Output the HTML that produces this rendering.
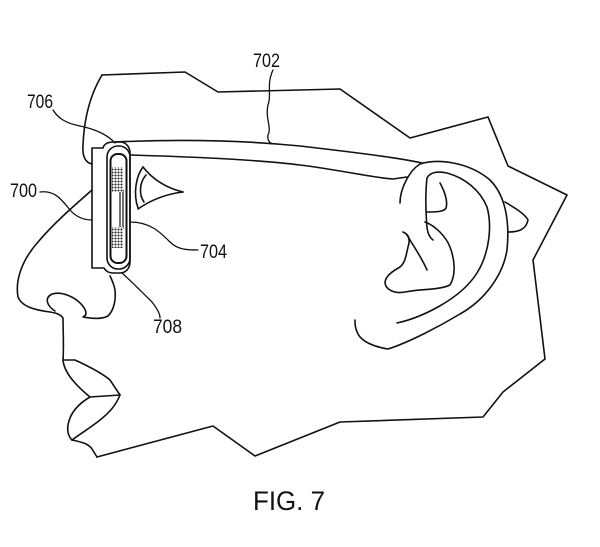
<!DOCTYPE html>
<html><head><meta charset="utf-8"><style>
html,body{margin:0;padding:0;background:#fff;}
svg{display:block;}
text{font-family:"Liberation Sans",Arial,sans-serif;fill:#111;}
</style></head><body>
<svg width="600" height="547" viewBox="0 0 600 547" xmlns="http://www.w3.org/2000/svg">
<defs>
<pattern id="dots" width="3" height="3" patternUnits="userSpaceOnUse">
<rect width="3" height="3" fill="#fff"/>
<circle cx="1.5" cy="1.5" r="1.05" fill="#222"/>
</pattern>
</defs>
<g fill="none" stroke="#111" stroke-width="1.6" stroke-linejoin="round" stroke-linecap="round">
<!-- head outline top/back/neck -->
<path d="M102,75 L185,72 L218,92 L300,90 L340,89 L410,138 L488,117 L508,166 L567,195 L533,260 L545,359 L503,392 L483,417 L340,422 L255,456 L213,426 L97,457"/>
<!-- chin -->
<path d="M72,440 C82,442 89,444 92,449 L97,457"/>
<!-- forehead -->
<path d="M102,75 C90,95 84,120 83,145 C82,157 86,163 92,164"/>
<!-- frame outer -->
<path d="M92,148 L103,148 C104,144 108,142 114,142 L120,142 C126,142 130,147 130,153 L130,262 C130,268 126,273 120,273 L113,273 C108,273 105,270 104,268 L92,268 Z"/>
<!-- capsule -->
<rect x="107" y="146" width="23" height="123" rx="11" ry="11"/>
<rect x="110.5" y="154" width="16" height="109" rx="7" ry="7" stroke-width="2"/>
<!-- vertical element -->
<rect x="120" y="190" width="3" height="38" stroke-width="1.2"/>
<!-- temple arm -->
<path d="M115,142 C180,139 240,140 300,146 C360,153 400,158 422,163"/>
<path d="M130,155 C200,157 260,160 300,165 C340,170 375,178 393,179 L407,177"/>
<!-- ear -->
<path d="M400,203 C400,188 410,170 420,164 C440,158 470,163 490,180 C505,195 510,220 507,250 C503,275 485,300 460,314 C440,326 410,342 388,349 C375,347 362,342 358,334 C355,328 355,324 355,320"/>
<path d="M505,202 C515,208 525,214 528,220 C526,230 518,232 508,232"/>
<path d="M397,323 C420,318 460,300 477,273 C490,252 492,225 487,207 C480,190 465,178 447,173 C438,171 430,172 427,178 C425,195 426,215 427,228 C428,234 430,238 433,240"/>
<path d="M440,183 C445,192 448,202 446,208 C444,212 435,212 427,212"/>
<path d="M403,232 C408,234 411,238 408,247 C406,256 405,263 400,267 C393,271 385,276 385,283 C386,290 395,294 405,292 C420,289 440,290 450,285 C456,275 455,260 450,247 C446,237 436,226 425,222"/>
<path d="M407,235 C414,247 422,258 427,270"/>
<!-- eye -->
<path d="M143,167 Q158,186 183,192"/>
<path d="M183,192 Q158,195 138,209"/>
<path d="M143,167 C136,176 133,194 138,208"/>
<path d="M146,175 C139,183 139,195 144,202"/>
<!-- nose -->
<path d="M92,190 C75,205 55,222 38,242 C22,260 15,280 18,297 C22,307 35,310 50,312 C56,313 60,314 63,318 C63,330 64,345 63,360"/>
<path d="M55,311 C47,306 44,298 52,294 C62,291 75,297 82,305 C86,310 88,315 83,317 C90,318 100,320 108,316 C114,310 116,300 115,290 C114,284 112,280 110,276"/>
<!-- lips -->
<path d="M63,360 L75,360 C88,366 102,373 110,380 L120,395"/>
<path d="M63,360 C64,372 74,384 90,397 L120,395"/>
<path d="M90,397 C78,404 70,413 68,425 C67,432 69,437 72,440"/>
<path d="M120,395 C116,405 110,412 100,420 C90,428 80,434 72,440"/>
<!-- leaders -->
<path d="M273,70 C266,85 272,95 268,105 C265,118 272,128 268,135 C267,140 270,143 272,144" stroke-width="1.3"/>
<path d="M53,110 C58,118 65,123 80,126 C95,129 108,135 115,143" stroke-width="1.3"/>
<path d="M40,192 C55,190 62,200 70,210 C77,218 85,220 92,220" stroke-width="1.3"/>
<path d="M130,222 C150,222 160,232 170,242 C178,250 188,250 198,250" stroke-width="1.3"/>
<path d="M122,273 C132,282 142,292 152,302 C158,310 160,314 160,318" stroke-width="1.3"/>
</g>
<!-- dotted regions -->
<rect x="112" y="167" width="11" height="25" fill="url(#dots)"/>
<rect x="112" y="227" width="11" height="21" fill="url(#dots)"/>
<!-- labels -->
<text x="253" y="67" font-size="19" textLength="27" lengthAdjust="spacingAndGlyphs">702</text>
<text x="27" y="108" font-size="19" textLength="26" lengthAdjust="spacingAndGlyphs">706</text>
<text x="10" y="197" font-size="19" textLength="27" lengthAdjust="spacingAndGlyphs">700</text>
<text x="200" y="258" font-size="19" textLength="27" lengthAdjust="spacingAndGlyphs">704</text>
<text x="153" y="333" font-size="19" textLength="29" lengthAdjust="spacingAndGlyphs">708</text>
<text x="253" y="510" font-size="27" textLength="72" lengthAdjust="spacingAndGlyphs">FIG. 7</text>
</svg>
</body></html>
